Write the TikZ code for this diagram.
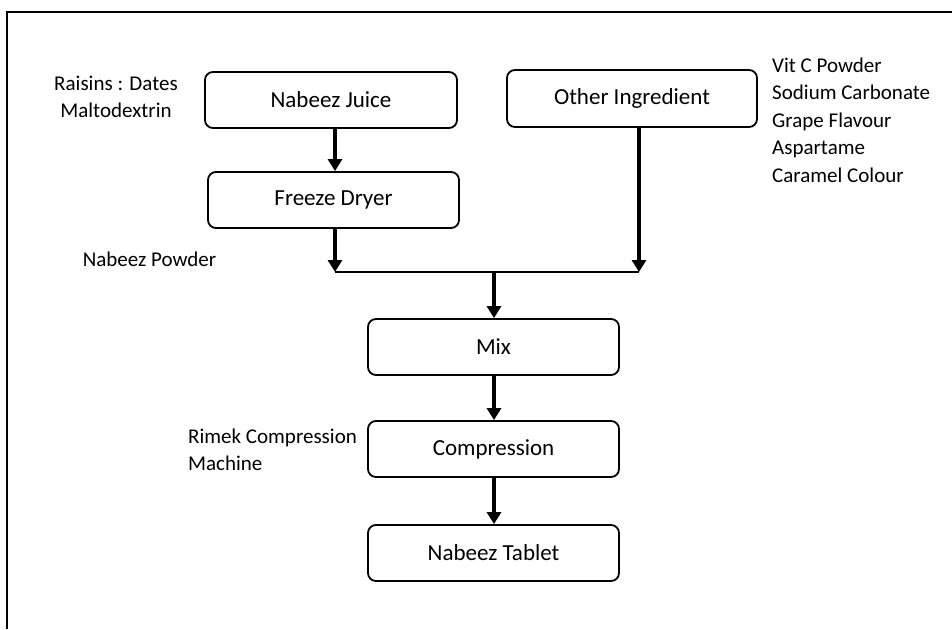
\documentclass[tikz,border=0pt]{standalone}
\usepackage{fontspec}
\setmainfont{Carlito}
\usetikzlibrary{arrows.meta}
\begin{document}
\begin{tikzpicture}[x=1pt,y=-1pt,
  procbox/.style={draw=black, line width=1.8pt, rounded corners=8pt, inner sep=0pt, font=\fontsize{23}{28}\selectfont},
  flow/.style={line width=3.5pt, -{Triangle[width=14pt,length=12pt]}},
  joinline/.style={line width=2pt},
  lbl/.style={inner sep=0pt, font=\fontsize{21}{27.5}\selectfont}]
\useasboundingbox (0,0) rectangle (952,629);
\fill[white] (0,0) rectangle (952,629);
\draw[line width=2pt] (7,629) -- (7,12) -- (952,12);

\node[procbox, minimum width=252pt, minimum height=56pt] (juice) at (331,100) {Nabeez Juice};
\node[procbox, minimum width=251pt, minimum height=56pt] (freeze) at (333.5,200) {Freeze Dryer};
\node[procbox, minimum width=250pt, minimum height=57pt] (other) at (632,98.5) {Other Ingredient};
\node[procbox, minimum width=251pt, minimum height=56pt] (mix) at (493.5,347) {Mix};
\node[procbox, minimum width=251pt, minimum height=56pt] (comp) at (493.5,449) {Compression};
\node[procbox, minimum width=251pt, minimum height=56pt] (tablet) at (493.5,553) {Nabeez Tablet};

\coordinate (jl) at (335,272);
\coordinate (jr) at (639,272);
\coordinate (jm) at (494,272);

\draw[flow] (jl |- juice.south) -- (jl |- freeze.north);
\draw[flow] (jl |- freeze.south) -- (jl);
\draw[flow] (jr |- other.south) -- (jr);
\draw[joinline] (jl) -- (jr);
\draw[flow] (jm) -- (jm |- mix.north);
\draw[flow] (jm |- mix.south) -- (jm |- comp.north);
\draw[flow] (jm |- comp.south) -- (jm |- tablet.north);

\node[lbl, align=center] (raw) at (116,97) {Raisins : Dates\\Maltodextrin};
\node[lbl] (powder) at (149.5,259) {Nabeez Powder};
\node[lbl, align=left, anchor=west] (ingr) at (772,120) {Vit C Powder\\Sodium Carbonate\\Grape Flavour\\Aspartame\\Caramel Colour};
\node[lbl, align=left, anchor=west] (machine) at (188,450) {Rimek Compression\\Machine};
\end{tikzpicture}
\end{document}
